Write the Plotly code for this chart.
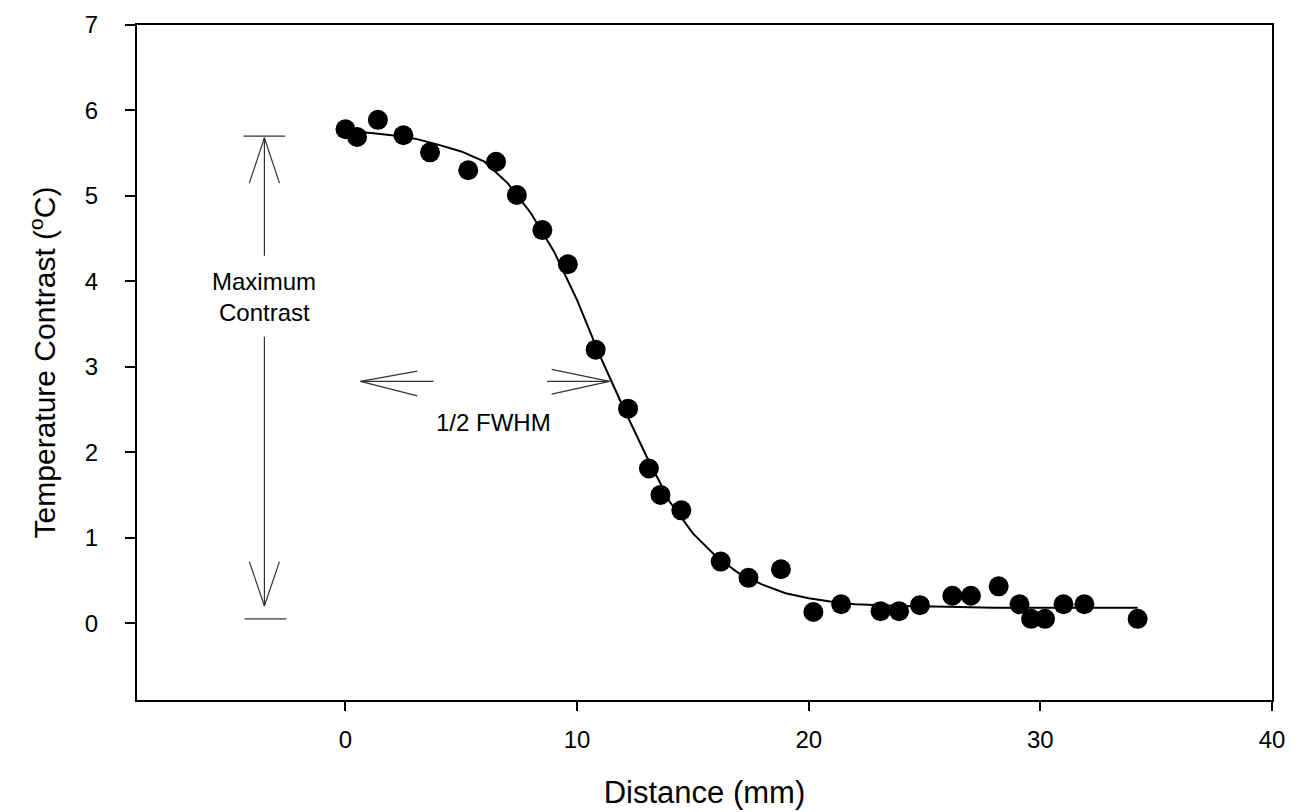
import plotly.graph_objects as go

# Measured data
distance_mm = [0.0, 0.5, 1.4, 2.5, 3.65, 5.3, 6.5, 7.4, 8.5, 9.6, 10.8, 12.2, 13.1, 13.6, 14.5,
               16.2, 17.4, 18.8, 20.2, 21.4, 23.1, 23.9, 24.8, 26.2, 27.0, 28.2, 29.1, 29.6,
               30.2, 31.0, 31.9, 34.2]
contrast_c = [5.78, 5.69, 5.89, 5.71, 5.51, 5.30, 5.40, 5.01, 4.60, 4.20, 3.20, 2.51, 1.81, 1.50,
              1.32, 0.72, 0.53, 0.63, 0.13, 0.22, 0.14, 0.14, 0.21, 0.32, 0.32, 0.43, 0.22, 0.05,
              0.05, 0.22, 0.22, 0.05]

# Fitted curve
fit_x = [0.5, 1, 2, 3, 4, 5, 6, 7, 8, 9, 10, 11, 12, 13, 14, 15, 16, 17, 18, 19, 20, 21, 22,
         24, 26, 28, 30, 32, 34.2]
fit_y = [5.75, 5.74, 5.71, 5.67, 5.60, 5.52, 5.40, 5.15, 4.80, 4.35, 3.78, 3.12, 2.52, 1.95,
         1.42, 1.05, 0.78, 0.58, 0.45, 0.35, 0.29, 0.25, 0.22, 0.20, 0.19, 0.18, 0.18, 0.18, 0.18]

x_ticks = [0, 10, 20, 30, 40]
y_ticks = [0, 1, 2, 3, 4, 5, 6, 7]

# Annotation geometry (data units)
mc_x, mc_top, mc_bot = -3.5, 5.7, 0.05
fw_y = 2.83
fw_left_tip, fw_left_tail = 0.65, 3.8
fw_right_tail, fw_right_tip = 8.7, 11.4

fig = go.Figure()
fig.add_trace(go.Scatter(x=fit_x, y=fit_y, mode="lines",
                         line=dict(color="black", width=2), showlegend=False))
fig.add_trace(go.Scatter(x=distance_mm, y=contrast_c, mode="markers",
                         marker=dict(color="black", size=20), showlegend=False))

line_k = dict(color="#333333", width=1.2)
shapes = []
def seg(x0, y0, x1, y1):
    shapes.append(dict(type="line", xref="x", yref="y", x0=x0, y0=y0, x1=x1, y1=y1,
                       line=line_k, layer="above"))

# Maximum contrast bars
seg(mc_x - 0.9, mc_top, mc_x + 0.9, mc_top)
seg(mc_x - 0.85, mc_bot, mc_x + 0.95, mc_bot)
# vertical line with gap for text
seg(mc_x, mc_top - 0.02, mc_x, 4.3)
seg(mc_x, 3.35, mc_x, mc_bot + 0.15)
# top arrowhead (open V)
seg(mc_x, mc_top - 0.02, mc_x - 0.65, 5.15)
seg(mc_x, mc_top - 0.02, mc_x + 0.65, 5.15)
# bottom arrowhead
seg(mc_x, 0.2, mc_x - 0.65, 0.72)
seg(mc_x, 0.2, mc_x + 0.65, 0.72)
# FWHM arrows
seg(fw_left_tip, fw_y, fw_left_tail, fw_y)
seg(fw_left_tip, fw_y, fw_left_tail - 0.7, fw_y + 0.12)
seg(fw_left_tip, fw_y, fw_left_tail - 0.7, fw_y - 0.17)
seg(fw_right_tail, fw_y, fw_right_tip, fw_y)
seg(fw_right_tip, fw_y, fw_right_tail + 0.2, fw_y + 0.14)
seg(fw_right_tip, fw_y, fw_right_tail + 0.2, fw_y - 0.15)

font_txt = dict(family="Liberation Sans, Arial", size=24, color="black")
annotations = [
    dict(x=mc_x, y=4.0, xref="x", yref="y", text="Maximum", showarrow=False, font=font_txt),
    dict(x=mc_x, y=3.64, xref="x", yref="y", text="Contrast", showarrow=False, font=font_txt),
    dict(x=6.4, y=2.35, xref="x", yref="y", text="1/2 FWHM", showarrow=False, font=font_txt),
]

fig.update_layout(
    width=1316, height=812,
    margin=dict(l=137, r=44, t=25, b=112),
    paper_bgcolor="white", plot_bgcolor="white",
    shapes=shapes, annotations=annotations,
    font=dict(family="Liberation Sans, Arial", color="black"),
    xaxis=dict(range=[-9, 40], tickvals=x_ticks, ticks="outside", ticklen=9, tickwidth=2,
               tickcolor="black", showline=True, linecolor="black", linewidth=2, mirror=True,
               showgrid=False, zeroline=False, tickfont=dict(size=24), ticklabelstandoff=8,
               automargin=False,
               title=dict(text="Distance (mm)", font=dict(size=31), standoff=30)),
    yaxis=dict(range=[-0.9, 7], tickvals=y_ticks, ticks="outside", ticklen=10, tickwidth=2,
               tickcolor="black", showline=True, linecolor="black", linewidth=2, mirror=True,
               showgrid=False, zeroline=False, tickfont=dict(size=24), ticklabelstandoff=22,
               automargin=False,
               title=dict(text="Temperature Contrast (<sup>o</sup>C)", font=dict(size=30), standoff=20)),
)

fig.write_html("out.html")
